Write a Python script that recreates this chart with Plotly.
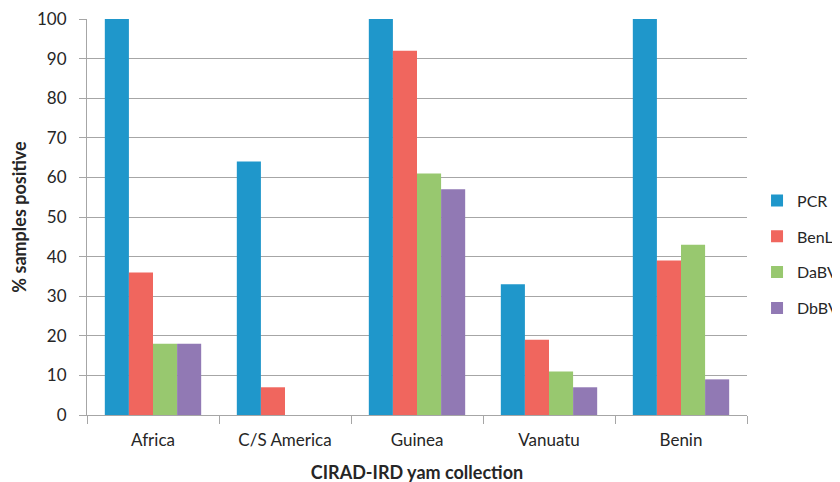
import plotly.graph_objects as go

categories = ["Africa", "C/S America", "Guinea", "Vanuatu", "Benin"]
series_names = ["PCR", "BenL", "DaBV", "DbBV"]
pcr = [100, 64, 100, 33, 100]
benl = [36, 7, 92, 19, 39]
dabv = [18, 0, 61, 11, 43]
dbbv = [18, 0, 57, 7, 9]
colors = ["#1F97CB", "#F0665E", "#98C86F", "#9179B4"]
y_ticks = list(range(0, 101, 10))

fig = go.Figure()
for i, (name, vals) in enumerate(zip(series_names, [pcr, benl, dabv, dbbv])):
    fig.add_trace(go.Bar(
        x=categories, y=vals, name=name,
        marker=dict(color=colors[i], line=dict(width=0)),
        legendgroup=name,
    ))

font_family = "Lato, 'Open Sans', sans-serif"
txt = "#262626"
fig.update_layout(
    width=840, height=482,
    margin=dict(l=79, r=101, t=11, b=75, autoexpand=False),
    paper_bgcolor="white", plot_bgcolor="white",
    barmode="group", bargap=0.27, bargroupgap=0,
    font=dict(family=font_family, size=17, color=txt),
    legend=dict(
        x=1.0152, xanchor="left", y=0.405, yanchor="middle",
        font=dict(size=16, color=txt),
        tracegroupgap=12, bgcolor="rgba(0,0,0,0)",
    ),
    showlegend=True,
)
fig.update_xaxes(
    showline=True, linecolor="#A6A6A6", linewidth=1,
    ticks="outside", tickson="boundaries", ticklen=8, tickcolor="#A6A6A6",
    showgrid=False, ticklabelstandoff=10,
    title=dict(text="<b>CIRAD-IRD yam collection</b>", font=dict(size=18, color=txt), standoff=16),
    tickfont=dict(size=17, color=txt),
)
fig.update_yaxes(
    range=[0, 100], tickvals=y_ticks,
    showline=True, linecolor="#A6A6A6", linewidth=1,
    ticks="outside", ticklen=7, tickcolor="#A6A6A6",
    showgrid=True, gridcolor="#A6A6A6", gridwidth=1,
    zeroline=False, ticklabelstandoff=9, ticklabeloverflow="allow",
    title=dict(text="<b>% samples positive</b>", font=dict(size=18, color=txt), standoff=11),
    tickfont=dict(size=17, color=txt),
)

fig.write_html("out.html")
